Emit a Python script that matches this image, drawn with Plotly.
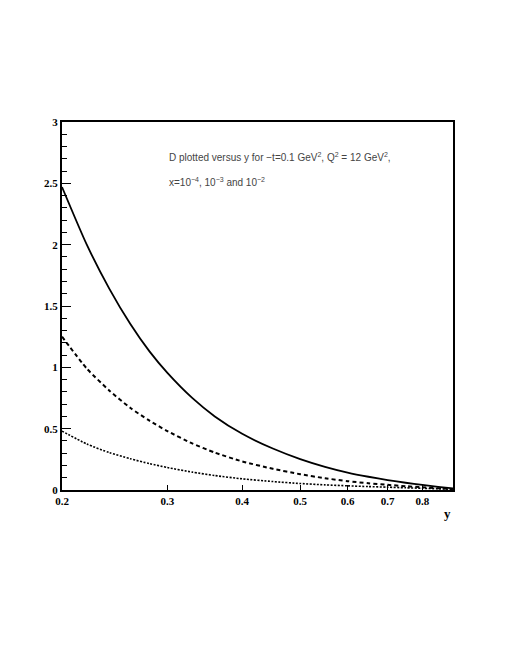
import plotly.graph_objects as go

# values
y_vals = [0.20, 0.22, 0.24, 0.26, 0.28, 0.30, 0.33, 0.36, 0.40, 0.45,
          0.50, 0.55, 0.60, 0.65, 0.70, 0.75, 0.80, 0.85, 0.90]
d_x1e4 = [2.47, 2.00, 1.64, 1.355, 1.13, 0.955, 0.751, 0.60, 0.458, 0.338,
          0.252, 0.189, 0.142, 0.108, 0.081, 0.059, 0.041, 0.026, 0.013]
d_x1e3 = [1.25, 0.99, 0.81, 0.67, 0.565, 0.48, 0.38, 0.305, 0.233, 0.173,
          0.129, 0.096, 0.072, 0.055, 0.042, 0.031, 0.022, 0.014, 0.008]
d_x1e2 = [0.48, 0.375, 0.305, 0.255, 0.215, 0.183, 0.146, 0.118, 0.091, 0.069,
          0.053, 0.042, 0.034, 0.028, 0.023, 0.018, 0.014, 0.010, 0.006]

x_ticks = [0.2, 0.3, 0.4, 0.5, 0.6, 0.7, 0.8]
x_ticktext = ["0.2", "0.3", "0.4", "0.5", "0.6", "0.7", "0.8"]
y_ticks = [0, 0.5, 1, 1.5, 2, 2.5, 3]
y_ticktext = ["0", "0.5", "1", "1.5", "2", "2.5", "3"]

SERIF = "Liberation Serif, Times New Roman, serif"
SANS = "Liberation Sans, Arial, sans-serif"

fig = go.Figure()
for vals, dash, width in [(d_x1e4, "solid", 1.8),
                          (d_x1e3, "4px,3px", 2.0),
                          (d_x1e2, "2px,1.5px", 1.6)]:
    fig.add_trace(go.Scatter(
        x=y_vals, y=vals, mode="lines",
        line=dict(color="black", width=width, dash=dash, shape="spline", smoothing=0.6),
        showlegend=False, hoverinfo="skip",
    ))

# the page body adds an 8px offset, so margins are shifted to compensate
fig.update_layout(
    width=505, height=654,
    paper_bgcolor="white", plot_bgcolor="white",
    margin=dict(l=54, r=60, t=114, b=172),
    font=dict(family=SERIF, color="black"),
    annotations=[
        dict(text="D plotted versus y for \u2212t=0.1 GeV<sup>2</sup>, Q<sup>2</sup> = 12 GeV<sup>2</sup>,",
             x=0.2685, y=0.905, xref="paper", yref="paper", xanchor="left", yanchor="middle",
             showarrow=False, font=dict(family=SANS, size=10, color="#444")),
        dict(text="x=10<sup>\u22124</sup>, 10<sup>\u22123</sup> and 10<sup>\u22122</sup>",
             x=0.2685, y=0.837, xref="paper", yref="paper", xanchor="left", yanchor="middle",
             showarrow=False, font=dict(family=SANS, size=10, color="#444")),
        dict(text="<b>y</b>", x=0.987, y=-0.064, xref="paper", yref="paper",
             xanchor="center", yanchor="middle", showarrow=False,
             font=dict(family=SERIF, size=13, color="black")),
    ],
)

fig.update_xaxes(
    type="log", range=[-0.69897, -0.04576],
    tickvals=x_ticks, ticktext=x_ticktext,
    ticks="inside", ticklen=5, tickcolor="black", tickwidth=1,
    showgrid=False, zeroline=False,
    showline=True, linecolor="black", linewidth=2, mirror=True,
    tickfont=dict(family=SERIF, size=11, color="black", weight="bold"),
)
fig.update_yaxes(
    range=[0, 3],
    tickvals=y_ticks, ticktext=y_ticktext,
    ticks="inside", ticklen=9, tickcolor="black", tickwidth=1,
    minor=dict(dtick=0.1, ticks="inside", ticklen=5, tickcolor="black", tickwidth=1, showgrid=False),
    showgrid=False, zeroline=False,
    showline=True, linecolor="black", linewidth=2, mirror=True,
    tickfont=dict(family=SERIF, size=11, color="black", weight="bold"),
)

fig.write_html("out.html")
